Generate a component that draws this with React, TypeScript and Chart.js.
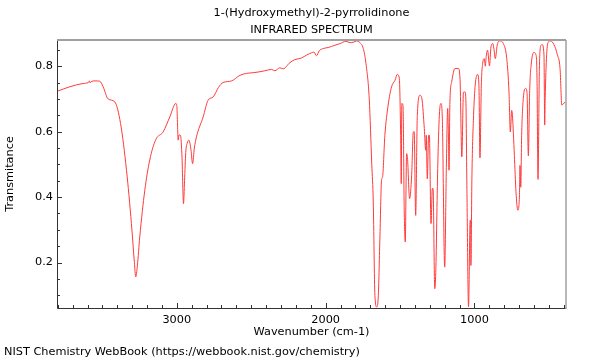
import React, { useEffect, useRef } from 'react';
import { Chart, registerables } from 'chart.js';

Chart.register(...registerables);

const TITLE = '1-(Hydroxymethyl)-2-pyrrolidinone';
const SUBTITLE = 'INFRARED SPECTRUM';
const X_TITLE = 'Wavenumber (cm-1)';
const Y_TITLE = 'Transmitance';
const FOOTER = 'NIST Chemistry WebBook (https://webbook.nist.gov/chemistry)';

const wavenumbers = [
  3800, 3719, 3630, 3595, 3588, 3582, 3575, 3550, 3518, 3495, 3462, 3417, 3378, 3338, 3305, 3285, 3276, 3265, 3249,
  3215, 3182, 3141, 3092, 3047, 3007, 3000, 2995, 2991, 2985, 2975, 2965, 2955, 2948, 2940, 2930, 2919, 2905, 2894,
  2882, 2868, 2823, 2790, 2756, 2720, 2689, 2632, 2576, 2531, 2487, 2442, 2408, 2363, 2341, 2308, 2285, 2240, 2207,
  2162, 2128, 2094, 2079, 2061, 2043, 2016, 1983, 1938, 1904, 1864, 1837, 1815, 1792, 1770, 1747, 1729, 1707, 1690,
  1680, 1669, 1657, 1646, 1635, 1624, 1618, 1602, 1580, 1557, 1534, 1519, 1505, 1496, 1492, 1488, 1480, 1472, 1465,
  1456, 1450, 1436, 1422, 1411, 1405, 1395, 1384, 1366, 1353, 1337, 1328, 1324, 1317, 1308, 1303, 1292, 1283, 1278,
  1267, 1260, 1247, 1236, 1225, 1216, 1200, 1189, 1180, 1175, 1171, 1165, 1153, 1131, 1108, 1097, 1085, 1074, 1064,
  1058, 1051, 1040, 1029, 1026, 1024, 1017, 1006, 995, 979, 970, 963, 954, 945, 934, 927, 921, 912, 899, 889, 877,
  870, 860, 847, 829, 806, 783, 768, 759, 750, 745, 732, 721, 709, 698, 694, 689, 683, 672, 656, 647, 638, 629, 617,
  600, 587, 580, 573, 564, 553, 546, 533, 528, 525, 515, 504, 488, 466, 443, 425, 413, 402, 390,
];

const transmittance = [
  0.724, 0.737, 0.747, 0.75, 0.755, 0.749, 0.753, 0.755, 0.754, 0.737, 0.7, 0.691, 0.625, 0.482, 0.319, 0.2, 0.156, 0.19, 0.278,
  0.421, 0.513, 0.576, 0.599, 0.645, 0.686, 0.68, 0.62, 0.574, 0.59, 0.588, 0.52, 0.38, 0.45, 0.536, 0.565, 0.574, 0.545, 0.502,
  0.55, 0.584, 0.645, 0.696, 0.706, 0.735, 0.75, 0.755, 0.772, 0.778, 0.78, 0.783, 0.786, 0.79, 0.786, 0.795, 0.792, 0.811, 0.82,
  0.825, 0.834, 0.841, 0.843, 0.832, 0.847, 0.854, 0.857, 0.864, 0.869, 0.876, 0.872, 0.873, 0.877, 0.872, 0.854, 0.808, 0.7, 0.5,
  0.385, 0.1, 0.064, 0.1, 0.283, 0.454, 0.46, 0.589, 0.681, 0.737, 0.757, 0.775, 0.763, 0.589, 0.441, 0.686, 0.68, 0.36, 0.263,
  0.533, 0.52, 0.395, 0.467, 0.599, 0.6, 0.344, 0.65, 0.711, 0.7, 0.609, 0.543, 0.589, 0.456, 0.589, 0.589, 0.319, 0.426, 0.426,
  0.12, 0.17, 0.487, 0.65, 0.686, 0.64, 0.186, 0.49, 0.671, 0.59, 0.482, 0.69, 0.752, 0.793, 0.793, 0.76, 0.523, 0.72, 0.721,
  0.7, 0.436, 0.065, 0.329, 0.33, 0.191, 0.467, 0.65, 0.742, 0.775, 0.74, 0.52, 0.742, 0.808, 0.823, 0.8, 0.83, 0.849, 0.801, 0.859, 0.869,
  0.855, 0.823, 0.865, 0.877, 0.869, 0.823, 0.721, 0.599, 0.665, 0.65, 0.528, 0.416, 0.36, 0.4, 0.497, 0.43, 0.589, 0.701, 0.732, 0.72, 0.526, 0.726, 0.813,
  0.842, 0.835, 0.77, 0.454, 0.79, 0.864, 0.866, 0.835, 0.62, 0.7, 0.835, 0.874, 0.877, 0.866, 0.835, 0.793, 0.681, 0.686, 0.69,
];

const xTickLabels = [3000, 2000, 1000];
const yTickLabels = [0.2, 0.4, 0.6, 0.8];
const X_RANGE = [385, 3805];
const Y_RANGE = [0.061, 0.88];
const X_MINOR_STEP = 100;
const Y_MINOR_STEP = 0.05;

const FONT = '"DejaVu Sans", sans-serif';
const FONT_SIZE = 11.3;

const decorPlugin = {
  id: 'decor',
  afterDraw(chart: any) {
    const { ctx, chartArea, scales } = chart;
    const { left, right, top, bottom } = chartArea;
    const xs = scales.x;
    const ys = scales.y;
    ctx.save();
    // frame
    ctx.lineWidth = 1;
    ctx.strokeStyle = '#333';
    ctx.beginPath();
    ctx.moveTo(left + 0.5, top);
    ctx.lineTo(left + 0.5, bottom + 0.5);
    ctx.lineTo(right, bottom + 0.5);
    ctx.stroke();
    ctx.strokeStyle = '#a0a0a0';
    ctx.lineWidth = 2;
    ctx.beginPath();
    ctx.moveTo(left, top);
    ctx.lineTo(right, top);
    ctx.stroke();
    ctx.lineWidth = 1.5;
    ctx.beginPath();
    ctx.moveTo(right, top);
    ctx.lineTo(right, bottom + 1);
    ctx.stroke();
    // ticks
    ctx.strokeStyle = '#333';
    ctx.lineWidth = 1;
    ctx.beginPath();
    for (let v = 400; v <= X_RANGE[1]; v += X_MINOR_STEP) {
      const px = Math.round(xs.getPixelForValue(v)) + 0.5;
      const major = v % 1000 === 0;
      ctx.moveTo(px, bottom);
      ctx.lineTo(px, bottom - (major ? 5 : 3));
    }
    for (let i = 2; i * Y_MINOR_STEP <= Y_RANGE[1] + 1e-9; i++) {
      const v = i * Y_MINOR_STEP;
      const py = Math.round(ys.getPixelForValue(v)) + 0.5;
      const major = i % 4 === 0;
      ctx.moveTo(left, py);
      ctx.lineTo(left + (major ? 5 : 3), py);
    }
    ctx.stroke();
    // texts
    ctx.fillStyle = '#000';
    ctx.font = `${FONT_SIZE}px ${FONT}`;
    ctx.textAlign = 'center';
    ctx.textBaseline = 'middle';
    const cx = (left + right) / 2;
    ctx.fillText(TITLE, cx, 13);
    ctx.fillText(SUBTITLE, cx, 30);
    ctx.fillText(X_TITLE, cx, 332);
    ctx.textAlign = 'left';
    ctx.fillText(FOOTER, 4, 352);
    ctx.translate(10, (top + bottom) / 2);
    ctx.rotate(-Math.PI / 2);
    ctx.textAlign = 'center';
    ctx.fillText(Y_TITLE, 0, 0);
    ctx.restore();
  },
};

export default function App() {
  const ref = useRef<HTMLCanvasElement | null>(null);
  useEffect(() => {
    if (!ref.current) return;
    const points = wavenumbers.map((w, i) => ({ x: w, y: transmittance[i] }));
    const chart = new Chart(ref.current, {
      type: 'line',
      data: {
        datasets: [
          {
            data: points,
            borderColor: '#ff3a3a',
            borderWidth: 1,
            pointRadius: 0,
            cubicInterpolationMode: 'monotone',
            fill: false,
          },
        ],
      },
      options: {
        animation: false,
        responsive: false,
        devicePixelRatio: 1,
        layout: { padding: { top: 40, right: 34, left: 0, bottom: 0 } },
        plugins: { legend: { display: false }, tooltip: { enabled: false }, title: { display: false } },
        scales: {
          x: {
            type: 'linear',
            reverse: true,
            min: X_RANGE[0],
            max: X_RANGE[1],
            grid: { display: false, drawTicks: false },
            border: { display: false },
            afterBuildTicks: (s: any) => {
              s.ticks = xTickLabels.map((v) => ({ value: v }));
            },
            afterFit: (s: any) => {
              s.height = 52;
            },
            ticks: {
              padding: 5,
              maxRotation: 0,
              color: '#000',
              font: { family: FONT, size: FONT_SIZE },
              callback: (v: any) => String(v),
            },
          },
          y: {
            type: 'linear',
            min: Y_RANGE[0],
            max: Y_RANGE[1],
            grid: { display: false, drawTicks: false },
            border: { display: false },
            afterBuildTicks: (s: any) => {
              s.ticks = yTickLabels.map((v) => ({ value: v }));
            },
            afterFit: (s: any) => {
              s.width = 57;
            },
            ticks: {
              padding: 4,
              color: '#000',
              font: { family: FONT, size: FONT_SIZE },
              callback: (v: any) => Number(v).toFixed(1),
            },
          },
        },
      },
      plugins: [decorPlugin],
    });
    return () => chart.destroy();
  }, []);
  return (
    <div style={{ position: 'absolute', left: 0, top: 0, width: 600, height: 360, background: '#fff' }}>
      <canvas ref={ref} width={600} height={360} style={{ display: 'block', width: 600, height: 360 }} />
    </div>
  );
}
